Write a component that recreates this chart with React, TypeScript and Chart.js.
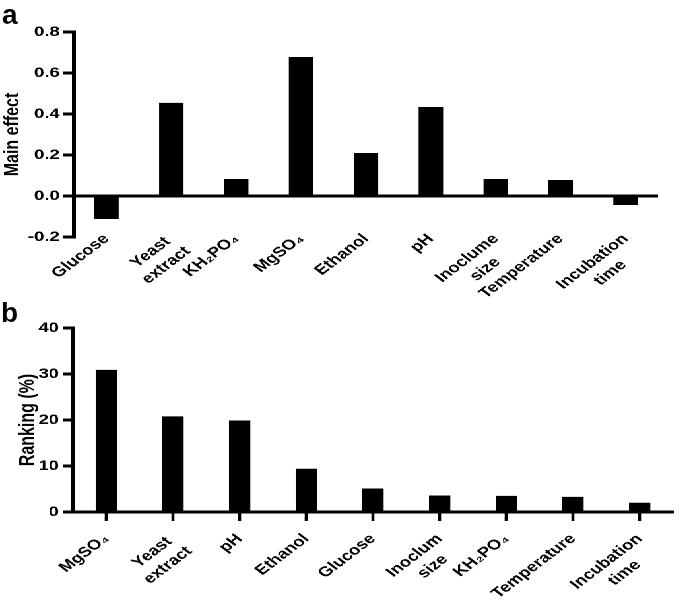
import React, { useEffect, useRef } from "react";
import { Chart, registerables } from "chart.js";

Chart.register(...registerables);

// ---- data ----
// (two-line labels: trailing spaces centre the shorter line under the longer one)
const effectLabels: (string | string[])[] = [
  "Glucose",
  ["Yeast ", "extract"],
  "KH₂PO₄",
  "MgSO₄",
  "Ethanol",
  "pH",
  ["Inoclume", "size    "],
  "Temperature",
  ["Incubation", "time     "],
];
const effectValues = [-0.112, 0.454, 0.083, 0.678, 0.21, 0.434, 0.083, 0.078, -0.044];
const effectTicks = [-0.2, 0.0, 0.2, 0.4, 0.6, 0.8];

const rankLabels: (string | string[])[] = [
  "MgSO₄",
  ["Yeast ", "extract"],
  "pH",
  "Ethanol",
  "Glucose",
  ["Inoclum", "size   "],
  "KH₂PO₄",
  "Temperature",
  ["Incubation", "time     "],
];
const rankValues = [30.9, 20.8, 19.9, 9.4, 5.1, 3.6, 3.5, 3.3, 2.0];
const rankTicks = [0, 10, 20, 30, 40];

// ---- layout (reference image is horizontally stretched) ----
const S = 1.32;
const W = Math.round(685 / S);
const FONT = "'Liberation Sans', Arial, Helvetica, sans-serif";

export default function App() {
  const refA = useRef<HTMLCanvasElement>(null);
  const refB = useRef<HTMLCanvasElement>(null);

  useEffect(() => {
    const tickFont = { family: FONT, size: 14, weight: "bold" as const, lineHeight: 1.25 };
    const titleFont = { family: FONT, size: 16, weight: "bold" as const };

    // labels of panel a begin slightly above the bottom of the plot area
    const liftLabels = {
      id: "liftLabels",
      afterLayout(chart: any) {
        const x = chart.scales.x;
        x.top -= 12;
        x._labelItems = null;
      },
    };

    const chartA = new Chart(refA.current!, {
      type: "bar",
      data: {
        labels: effectLabels,
        datasets: [
          {
            data: effectValues,
            backgroundColor: "#000",
            borderWidth: 0,
            categoryPercentage: 1,
            barPercentage: 0.377,
          },
        ],
      },
      plugins: [liftLabels],
      options: {
        animation: false,
        responsive: false,
        devicePixelRatio: 2,
        layout: { padding: { left: 0, top: 32, right: W - 658 / S, bottom: 0 } },
        plugins: { legend: { display: false }, tooltip: { enabled: false } },
        scales: {
          x: {
            grid: { display: false, drawTicks: false },
            border: { display: false },
            ticks: {
              font: tickFont,
              color: "#000",
              minRotation: 45,
              maxRotation: 45,
              padding: 5.5,
              autoSkip: false,
            },
            afterFit: (s: any) => {
              s.height = 300 - 237;
              s.paddingLeft = 0;
              s.paddingRight = 0;
            },
          },
          y: {
            min: -0.2,
            max: 0.8,
            afterBuildTicks: (s: any) => {
              s.ticks = effectTicks.map((v) => ({ value: v }));
            },
            grid: {
              color: (ctx: any) =>
                ctx.tick && Math.abs(ctx.tick.value) < 1e-9 ? "#000" : "rgba(0,0,0,0)",
              lineWidth: 3,
              tickColor: "#000",
              tickLength: 8.3,
              tickWidth: 3,
            },
            border: { display: true, color: "#000", width: 3 },
            ticks: {
              font: tickFont,
              color: "#000",
              padding: 2.5,
              callback: (v: any) => (Math.abs(Number(v)) < 1e-9 ? "0.0" : Number(v).toFixed(1)),
            },
            title: {
              display: true,
              text: "Main effect",
              color: "#000",
              font: titleFont,
              padding: { top: 0, bottom: 0 },
            },
            afterFit: (s: any) => {
              s.width = 74 / S;
              s.paddingTop = 0;
              s.paddingBottom = 0;
            },
          },
        },
      },
    });

    const chartB = new Chart(refB.current!, {
      type: "bar",
      data: {
        labels: rankLabels,
        datasets: [
          {
            data: rankValues,
            backgroundColor: "#000",
            borderWidth: 0,
            categoryPercentage: 1,
            barPercentage: 0.32,
          },
        ],
      },
      options: {
        animation: false,
        responsive: false,
        devicePixelRatio: 2,
        layout: { padding: { left: 0, top: 28, right: W - 673 / S, bottom: 0 } },
        plugins: { legend: { display: false }, tooltip: { enabled: false } },
        scales: {
          x: {
            grid: {
              display: true,
              drawOnChartArea: false,
              offset: false,
              drawTicks: true,
              tickLength: 9,
              tickWidth: 2.3,
              tickColor: "#000",
              color: "#000",
            },
            border: { display: true, color: "#000", width: 3 },
            ticks: {
              font: tickFont,
              color: "#000",
              minRotation: 45,
              maxRotation: 45,
              padding: 9.5,
              autoSkip: false,
            },
            afterFit: (s: any) => {
              s.height = 302 - 212;
              s.paddingLeft = 0;
              s.paddingRight = 0;
            },
          },
          y: {
            min: 0,
            max: 40,
            afterBuildTicks: (s: any) => {
              s.ticks = rankTicks.map((v) => ({ value: v }));
            },
            grid: {
              drawOnChartArea: false,
              tickColor: "#000",
              tickLength: 7.6,
              tickWidth: 3,
            },
            border: { display: true, color: "#000", width: 3 },
            ticks: {
              font: tickFont,
              color: "#000",
              padding: 3,
            },
            title: {
              display: true,
              text: "Ranking (%)",
              color: "#000",
              font: titleFont,
              padding: { top: 11.6, bottom: 0 },
            },
            afterFit: (s: any) => {
              s.width = 73 / S;
              s.paddingTop = 0;
              s.paddingBottom = 0;
            },
          },
        },
      },
    });

    return () => {
      chartA.destroy();
      chartB.destroy();
    };
  }, []);

  const letter: React.CSSProperties = {
    position: "absolute",
    fontFamily: FONT,
    fontWeight: "bold",
    fontSize: 28,
    lineHeight: "28px",
    color: "#000",
    margin: 0,
  };

  return (
    <div
      style={{
        position: "fixed",
        left: 0,
        top: 0,
        width: 685,
        height: 602,
        background: "#fff",
        overflow: "hidden",
      }}
    >
      <div
        style={{
          position: "absolute",
          left: 0,
          top: 0,
          width: W,
          height: 602,
          transform: `scaleX(${S})`,
          transformOrigin: "0 0",
        }}
      >
        <canvas
          ref={refA}
          width={W}
          height={300}
          style={{ position: "absolute", left: 0, top: 0, display: "block" }}
        />
        <canvas
          ref={refB}
          width={W}
          height={302}
          style={{ position: "absolute", left: 0, top: 300, display: "block" }}
        />
      </div>
      <div style={{ ...letter, left: 2, top: 1 }}>a</div>
      <div style={{ ...letter, left: 1, top: 299 }}>b</div>
    </div>
  );
}
